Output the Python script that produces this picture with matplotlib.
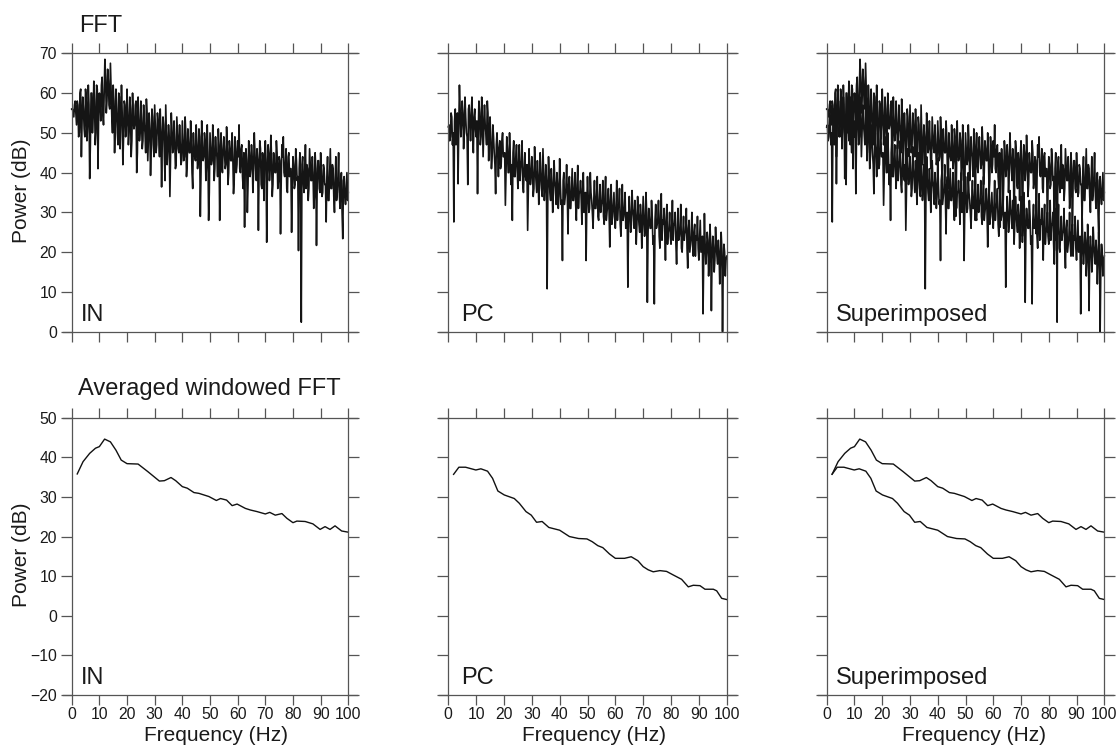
import matplotlib
matplotlib.use('Agg')
import matplotlib.pyplot as plt
import numpy as np

plt.rcParams['font.family'] = ['Liberation Sans', 'DejaVu Sans']

# ---------------- data ----------------
fft_freq_step = 0.25  # Hz between FFT bins (0 .. 100 Hz)

# bins at 0, 0.5, 1.0, ... 100 Hz
fft_in = [
    56, 55, 57, 55, 58, 49, 60, 44, 59, 51,
    61, 48, 62, 38.5, 60, 50, 63, 47, 62, 41,
    60, 53, 64, 52, 68.5, 55, 66, 57, 67.5, 54,
    62, 45, 61, 50, 60, 46, 62, 42, 58, 49,
    61, 47, 59, 44, 60, 51, 57, 40, 59, 48,
    58, 46, 57, 50, 58.5, 43, 55, 39.3, 56, 47,
    57, 45, 55, 49, 56, 36.4, 54, 44, 57, 42,
    52, 34, 55, 45, 53, 41, 54, 46, 52, 42,
    53, 43, 54, 39, 51, 45, 53, 40, 50, 44,
    52, 41, 51, 29, 53, 43, 50, 38, 52, 28,
    50, 42, 52, 38, 49, 44, 51, 28, 50, 40,
    49, 41, 51.5, 37, 48, 43, 50, 34.7, 49, 40,
    48, 52, 40, 47, 36, 26.3, 46, 30, 48, 39,
    47, 35, 50, 41, 46, 25.5, 48, 37, 45, 33,
    48, 22.5, 47, 38, 49.4, 34, 45, 40, 48, 36,
    44, 24.6, 47, 49, 39, 46, 35, 45, 41, 25,
    44, 36, 46, 38, 20.4, 45, 2.4, 44, 35, 47,
    42, 33, 46, 38, 44, 31, 45, 21.7, 43, 36,
    45, 34, 42, 37, 27.6, 44, 33, 46, 36, 41,
    30, 44, 35, 45, 31, 40, 23.4, 39, 32, 40, 35,
]
# bins at 0.25, 0.75, ... 99.75 Hz
fft_in_mid = [
    56, 54, 58, 52, 57, 50, 61, 53, 56, 49,
    59, 52, 57, 47, 60, 54, 58, 50, 61, 55,
    57, 62, 55, 60, 64, 58, 63, 56, 61, 50,
    58, 52, 56, 47, 59, 53, 55, 49, 57, 52,
    55, 50, 56, 48, 54, 52, 58, 45, 53, 50,
    53, 48, 52, 45, 55, 49, 51, 46, 54, 44,
    51, 47, 53, 44, 50, 48, 52, 38, 49, 46,
    49, 44, 51, 46, 48, 42, 50, 45, 47, 43,
    48, 44, 50, 42, 47, 45, 49, 36, 46, 43,
    47, 43, 49, 40, 46, 44, 48, 42, 45, 35,
    46, 43, 48, 41, 45, 39, 47, 44, 42, 46,
    45, 42, 47, 40, 46, 43, 44, 38, 46, 42,
    44, 41, 46, 39, 45, 42, 43, 37, 45, 41,
    44, 40, 45, 38, 43, 41, 46, 36, 42, 44,
    43, 39, 45, 41, 44, 37, 42, 40, 45, 38,
    43, 38, 44, 40, 42, 36, 44, 39, 41, 37,
    42, 37, 43, 39, 41, 35, 42, 38, 40, 36,
    41, 36, 42, 38, 40, 34, 41, 37, 43, 35,
    40, 35, 41, 37, 39, 33, 40, 36, 42, 34,
    38, 33, 39, 35, 37, 30, 38, 34, 36, 33,
]

fft_pc = [
    51.5, 48, 55, 47, 27.6, 56, 50, 37.2, 62, 49,
    58, 46, 59, 50, 37, 57, 48, 59, 45, 56,
    49, 34.7, 58, 47, 59, 44, 57, 50, 58, 43,
    54, 41, 52, 45, 34.7, 50, 39, 48, 42, 50,
    44, 31.8, 49, 40, 50, 37, 28, 48, 39, 47,
    36, 47, 41, 48, 35, 45, 38, 25.5, 46, 37,
    44, 34, 46.5, 38, 43, 32, 45, 36, 46, 33,
    42, 10.8, 44, 35, 41, 30, 43, 36, 40, 31,
    43.5, 32, 17.9, 40, 34, 42, 24.6, 39, 31, 41,
    33, 40, 28, 41.8, 35, 38, 27, 40, 32, 17.9,
    39, 30, 40, 33, 26, 38, 31, 39, 28, 37,
    32, 38, 27, 39, 30, 36, 21.3, 37, 29, 35,
    26, 38, 31, 36, 24, 37, 29, 35, 27, 11.2,
    34, 25, 35.5, 29, 33, 22, 34, 27, 32, 21,
    34, 24, 35, 7.4, 31, 26, 33, 22, 7, 32,
    27, 33, 21, 34.7, 28, 31, 18, 32, 25, 30,
    22, 33, 27, 30, 17, 31, 24, 32, 20, 29,
    25, 31, 16, 28, 22, 30, 19, 27, 24, 29,
    18, 28, 22, 4.5, 29.7, 17, 25, 14, 27, 5.3,
    24, 15, 26.3, 19, 23, 12, 25, 0, 22, 14, 19,
]
fft_pc_mid = [
    52, 49, 54, 50, 53, 47, 55, 51, 56, 52,
    55, 51, 54, 49, 56, 52, 55, 50, 54, 51,
    53, 50, 55, 49, 54, 51, 52, 47, 55, 50,
    48, 44, 49, 42, 47, 45, 46, 41, 48, 44,
    45, 41, 46, 40, 44, 42, 45, 39, 44, 41,
    42, 38, 43, 37, 41, 39, 42, 36, 41, 39,
    40, 36, 41, 35, 39, 37, 40, 34, 39, 36,
    38, 34, 39, 33, 37, 35, 38, 32, 37, 34,
    37, 33, 38, 32, 36, 34, 37, 31, 36, 33,
    36, 32, 37, 31, 35, 33, 36, 30, 35, 32,
    34, 31, 35, 30, 33, 31, 34, 29, 33, 30,
    33, 29, 34, 28, 32, 30, 33, 27, 32, 29,
    31, 28, 32, 27, 30, 28, 31, 26, 30, 28,
    30, 27, 31, 26, 29, 27, 30, 25, 29, 27,
    29, 26, 30, 25, 28, 26, 29, 24, 28, 26,
    28, 24, 29, 23, 27, 25, 28, 22, 26, 24,
    26, 23, 27, 22, 25, 23, 26, 21, 25, 23,
    25, 21, 26, 20, 24, 22, 25, 19, 23, 21,
    23, 20, 24, 19, 22, 20, 23, 18, 22, 19,
    21, 18, 22, 17, 20, 18, 21, 16, 20, 18,
]

avg_in_freq = [2.0, 4.1, 6.5, 8.6, 10.0, 11.9, 14.0, 16.0, 17.9, 20.0,
               24.0, 27.5, 31.7, 33.5, 35.9, 37.6, 40.0, 41.8, 44.2, 46.0,
               49.6, 52.3, 53.8, 56.0, 58.0, 59.8, 62.8, 64.6, 67.0, 70.0,
               71.6, 73.6, 76.0, 77.8, 80.0, 81.4, 84.4, 87.2, 89.8, 91.6,
               93.4, 95.2, 97.6, 100.0]
avg_in_power = [35.8, 38.9, 41.0, 42.3, 42.7, 44.6, 43.9, 41.8, 39.3, 38.4,
                38.3, 36.4, 34.0, 34.1, 34.9, 34.1, 32.6, 32.2, 31.1, 30.9,
                30.1, 29.1, 29.6, 29.2, 27.8, 28.2, 27.1, 26.7, 26.3, 25.7,
                26.1, 25.4, 25.8, 24.6, 23.5, 23.9, 23.8, 23.2, 21.8, 22.5,
                21.8, 22.7, 21.4, 21.1]

avg_pc_freq = [1.9, 3.8, 6.2, 9.9, 11.7, 14.1, 15.9, 17.8, 20.1, 23.7,
               25.5, 27.9, 29.8, 31.7, 33.7, 36.1, 40.0, 43.5, 46.8, 49.8,
               51.7, 53.7, 55.5, 57.9, 60.0, 63.3, 65.7, 68.1, 70.0, 71.8,
               73.6, 76.0, 78.4, 80.8, 83.8, 86.2, 88.0, 90.4, 92.2, 95.2,
               96.4, 98.2, 100.0]
avg_pc_power = [35.7, 37.5, 37.5, 36.8, 37.1, 36.5, 34.7, 31.5, 30.5, 29.6,
                28.4, 26.3, 25.4, 23.6, 23.8, 22.3, 21.6, 20.0, 19.5, 19.4,
                18.7, 17.7, 17.2, 15.6, 14.5, 14.5, 14.9, 13.9, 12.4, 11.6,
                11.1, 11.4, 11.2, 10.3, 9.2, 7.3, 7.7, 7.6, 6.7, 6.7,
                6.3, 4.4, 4.1]

panel_labels = ['IN', 'PC', 'Superimposed']
row_titles = ['FFT', 'Averaged windowed FFT']
x_ticks = list(range(0, 101, 10))
fft_yticks = list(range(0, 71, 10))
avg_yticks = list(range(-20, 51, 10))


def interleave(even, odd):
    out = np.empty(len(even) + len(odd))
    out[0::2] = even
    out[1::2] = odd
    return out


fft_in_all = interleave(fft_in, fft_in_mid)
fft_pc_all = interleave(fft_pc, fft_pc_mid)
fft_freq = np.arange(len(fft_in_all)) * fft_freq_step

# ---------------- layout ----------------
W, H = 1119, 747
fig = plt.figure(figsize=(W / 100, H / 100), dpi=100)

lefts = [71.7, 448.3, 826.7]
widths = [276.6, 278.4, 277.6]
rows = [(53.3, 331.7), (417.7, 695.0)]
ext = 9.0
spine_col = '#555555'
txt_col = '#1a1a1a'
label_x = [0.063, 0.074, 0.062]
xlabel_centers = [215.5, 594.0, 973.5]

for r, (ytop, ybot) in enumerate(rows):
    for c in range(3):
        x0 = lefts[c] - ext
        w = widths[c] + 2 * ext
        ax = fig.add_axes([x0 / W, 1 - ybot / H, w / W, (ybot - ytop) / H])
        u = ext / widths[c] * 100
        ax.set_xlim(-u, 100 + u)
        if r == 0:
            ax.set_ylim(0, 70)
            ax.set_yticks(fft_yticks)
            if c in (0, 2):
                ax.plot(fft_freq, fft_in_all, color='#151515', lw=1.2)
            if c in (1, 2):
                ax.plot(fft_freq, fft_pc_all, color='#151515', lw=1.2)
        else:
            ax.set_ylim(-20, 50)
            ax.set_yticks(avg_yticks)
            if c in (0, 2):
                ax.plot(avg_in_freq, avg_in_power, color='#111111', lw=1.0)
            if c in (1, 2):
                ax.plot(avg_pc_freq, avg_pc_power, color='#111111', lw=1.0)
        ax.set_xticks(x_ticks)
        ax.spines['left'].set_position(('data', 0))
        ax.spines['right'].set_position(('data', 100))
        for s in ax.spines.values():
            s.set_color(spine_col)
            s.set_linewidth(0.9)
        ax.tick_params(axis='x', which='both', direction='out', top=True, bottom=True,
                       labelbottom=(r == 1), length=7, width=0.9, color=spine_col,
                       labelsize=11.3, labelcolor=txt_col, pad=1.5)
        ax.tick_params(axis='y', which='both', direction='out', left=True, right=True,
                       labelleft=(c == 0), labelright=False, length=8, width=0.9,
                       color=spine_col, labelsize=11.3, labelcolor=txt_col, pad=2.5)
        ax.patch.set_alpha(0)
        ax.text(label_x[c], 0.04, panel_labels[c], transform=ax.transAxes,
                fontsize=17, color=txt_col, ha='left', va='baseline')
        if c == 0:
            fig.text(22 / W, 1 - ((ytop + ybot) / 2 - 2) / H, 'Power (dB)',
                     rotation=90, ha='center', va='center', fontsize=15, color=txt_col)
        if r == 1:
            fig.text(xlabel_centers[c] / W, 1 - 741 / H, 'Frequency (Hz)',
                     ha='center', va='baseline', fontsize=15, color=txt_col)

fig.text(79 / W, 1 - 32 / H, row_titles[0], fontsize=17, color=txt_col,
         ha='left', va='baseline')
fig.text(78 / W, 1 - 395 / H, row_titles[1], fontsize=17, color=txt_col,
         ha='left', va='baseline')

fig.savefig('out.png', dpi=100, facecolor='white')
